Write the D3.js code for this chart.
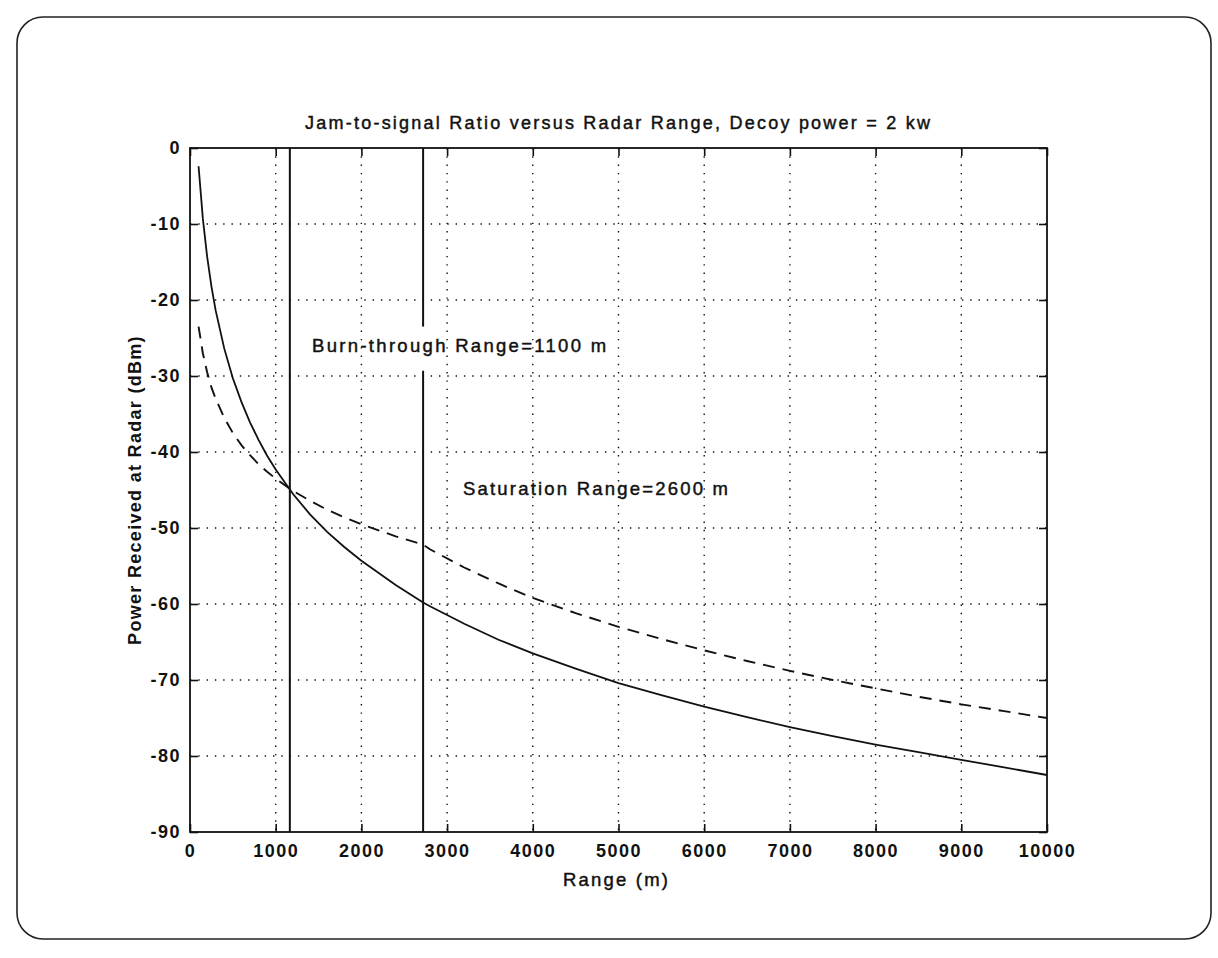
<!DOCTYPE html>
<html>
<head>
<meta charset="utf-8">
<script src="https://cdn.jsdelivr.net/npm/d3@7/dist/d3.min.js"></script>
<style>
  html, body { margin: 0; padding: 0; background: #fff; }
  svg { display: block; }
  text { font-family: "Liberation Sans", Arial, Helvetica, sans-serif; fill: #111; }
</style>
</head>
<body>
<div id="chart"></div>
<script>
'use strict';

// データ
const rangeM = [100, 150, 200, 250, 300, 400, 500, 600, 700, 800, 900, 1000, 1200, 1400, 1600, 1800, 2000, 2400, 2720, 2800, 3200, 3600, 4000, 4500, 5000, 5500, 6000, 6500, 7000, 7500, 8000, 8500, 9000, 9500, 10000];
// 実線：レーダー反射電力
const echoPower = [-2.4, -9.3, -14.3, -18.2, -21.4, -26.4, -30.3, -33.4, -36.1, -38.4, -40.5, -42.3, -45.5, -48.2, -50.5, -52.5, -54.3, -57.5, -59.8, -60.3, -62.6, -64.7, -66.5, -68.5, -70.4, -72.0, -73.5, -74.9, -76.2, -77.4, -78.5, -79.5, -80.5, -81.5, -82.5];
// 破線：デコイ電力
const decoyPower = [-23.5, -27.0, -29.5, -31.5, -33.0, -35.5, -37.5, -39.1, -40.4, -41.6, -42.6, -43.5, -45.1, -46.4, -47.6, -48.6, -49.5, -51.1, -52.2, -52.8, -55.2, -57.3, -59.2, -61.2, -63.0, -64.6, -66.1, -67.5, -68.8, -70.0, -71.1, -72.2, -73.2, -74.1, -75.0];

const xTicks = [0, 1000, 2000, 3000, 4000, 5000, 6000, 7000, 8000, 9000, 10000];
const yTicks = [0, -10, -20, -30, -40, -50, -60, -70, -80, -90];

// 縦線（バーンスルー距離・飽和距離）
const markerRange = [1165, 2720];
const markerGap = [null, [-23.5, -29.3]];

const notes = ['Burn-through Range=1100 m', 'Saturation Range=2600 m'];
const noteRange = [1425, 3185];
const noteDbm = [-26.8, -45.7];

const title = 'Jam-to-signal Ratio versus Radar Range, Decoy power = 2 kw';
const xLabel = 'Range (m)';
const yLabel = 'Power Received at Radar (dBm)';

// 描画
const width = 1218;
const height = 958;
const plot = { left: 190, right: 1047, top: 148, bottom: 832 };

const svg = d3.select('#chart')
    .append('svg')
    .attr('width', width)
    .attr('height', height)
    .attr('viewBox', `0 0 ${width} ${height}`);

// 外枠（スキャンされた紙の枠）
svg.append('rect')
    .attr('x', 17).attr('y', 17)
    .attr('width', 1194).attr('height', 922)
    .attr('rx', 26)
    .attr('fill', 'none')
    .attr('stroke', '#222')
    .attr('stroke-width', 1.6);

const x = d3.scaleLinear().domain([0, 10000]).range([plot.left, plot.right]);
const y = d3.scaleLinear().domain([-90, 0]).range([plot.bottom, plot.top]);

// グリッド（点線）
const grid = svg.append('g')
    .attr('stroke', '#111')
    .attr('stroke-width', 1.4)
    .attr('stroke-dasharray', '1.4 6.9');
grid.selectAll('.gx')
    .data(xTicks.slice(1, -1))
    .enter()
    .append('line')
    .attr('x1', d => x(d)).attr('x2', d => x(d))
    .attr('y1', plot.top).attr('y2', plot.bottom);
grid.selectAll('.gy')
    .data(yTicks.slice(1, -1))
    .enter()
    .append('line')
    .attr('x1', plot.left).attr('x2', plot.right)
    .attr('y1', d => y(d)).attr('y2', d => y(d));

// 軸（目盛りは内向き）
const tickFont = g => g.selectAll('text')
    .attr('font-size', 18)
    .attr('font-weight', 'bold')
    .attr('letter-spacing', 1.5)
    .attr('fill', '#111');
const cleanAxis = g => {
    g.select('.domain').remove();
    g.selectAll('line').attr('stroke', '#111').attr('stroke-width', 1.6);
};

svg.append('g')
    .attr('transform', `translate(0,${plot.bottom})`)
    .call(d3.axisBottom(x).tickValues(xTicks).tickFormat(d => String(d)).tickSize(-8).tickPadding(10))
    .call(cleanAxis)
    .call(tickFont)
    .call(g => g.selectAll('text').attr('dy', '0.82em').attr('y', 10));

svg.append('g')
    .attr('transform', `translate(0,${plot.top})`)
    .call(d3.axisTop(x).tickValues(xTicks).tickSize(-8).tickFormat(''))
    .call(cleanAxis);

svg.append('g')
    .attr('transform', `translate(${plot.left},0)`)
    .call(d3.axisLeft(y).tickValues(yTicks).tickFormat(d => String(d)).tickSize(-8).tickPadding(9))
    .call(cleanAxis)
    .call(tickFont);

svg.append('g')
    .attr('transform', `translate(${plot.right},0)`)
    .call(d3.axisRight(y).tickValues(yTicks).tickSize(-8).tickFormat(''))
    .call(cleanAxis);

// 枠線
svg.append('rect')
    .attr('x', plot.left).attr('y', plot.top)
    .attr('width', plot.right - plot.left)
    .attr('height', plot.bottom - plot.top)
    .attr('fill', 'none')
    .attr('stroke', '#111')
    .attr('stroke-width', 1.8);

// 縦線
markerRange.forEach((r, i) => {
    const gap = markerGap[i];
    const segs = gap ? [[0, gap[0]], [gap[1], -90]] : [[0, -90]];
    segs.forEach(s => {
        svg.append('line')
            .attr('x1', x(r)).attr('x2', x(r))
            .attr('y1', y(s[0])).attr('y2', y(s[1]))
            .attr('stroke', '#111')
            .attr('stroke-width', 2);
    });
});

// 曲線
const line = d3.line()
    .x((d, i) => x(rangeM[i]))
    .y(d => y(d));
svg.append('path')
    .datum(echoPower)
    .attr('d', line)
    .attr('fill', 'none')
    .attr('stroke', '#111')
    .attr('stroke-width', 1.8);
svg.append('path')
    .datum(decoyPower)
    .attr('d', line)
    .attr('fill', 'none')
    .attr('stroke', '#111')
    .attr('stroke-width', 1.9)
    .attr('stroke-dasharray', '12 8');

// 少し太めの文字（スキャン風）
const heavy = s => s.attr('stroke', '#111').attr('stroke-width', 0.45);

// 注記
const noteWidth = [294, 265];
svg.selectAll('.note')
    .data(notes)
    .enter()
    .append('text')
    .attr('class', 'note')
    .attr('x', (d, i) => x(noteRange[i]))
    .attr('y', (d, i) => y(noteDbm[i]))
    .attr('font-size', 18.5)
    .attr('textLength', (d, i) => noteWidth[i])
    .attr('lengthAdjust', 'spacing')
    .call(heavy)
    .text(d => d);

// タイトル・軸ラベル
svg.append('text')
    .attr('x', 305)
    .attr('y', 129)
    .attr('font-size', 18)
    .attr('textLength', 625)
    .attr('lengthAdjust', 'spacing')
    .call(heavy)
    .text(title);

svg.append('text')
    .attr('x', 563)
    .attr('y', 886)
    .attr('font-size', 18.5)
    .attr('textLength', 105)
    .attr('lengthAdjust', 'spacing')
    .call(heavy)
    .text(xLabel);

svg.append('text')
    .attr('transform', `translate(141,${(plot.top + plot.bottom) / 2}) rotate(-90)`)
    .attr('text-anchor', 'middle')
    .attr('font-size', 18)
    .attr('font-weight', 'bold')
    .attr('letter-spacing', 1.3)
    .text(yLabel);
</script>
</body>
</html>
